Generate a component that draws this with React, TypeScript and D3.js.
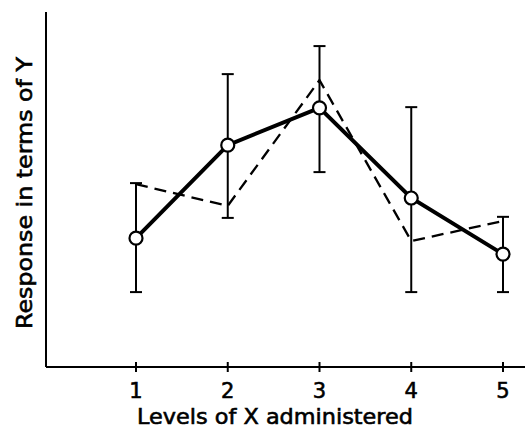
import React from 'react';
import * as d3 from 'd3';

// levels of X and the two response curves (arbitrary Y units)
const levels = [1, 2, 3, 4, 5];
const meanResp = [3.63, 6.25, 7.3, 4.76, 3.18];
const errLow = [2.11, 4.2, 5.49, 2.11, 2.11];
const errHigh = [5.18, 8.25, 9.04, 7.32, 4.23];
const otherResp = [5.15, 4.54, 8.08, 3.55, 4.11];
const tickLabels = ['1', '2', '3', '4', '5'];

const width = 525;
const height = 431;
const font = '"DejaVu Sans", sans-serif';

export default function App() {
  const x = d3.scaleLinear().domain([1, 5]).range([136, 503]);
  const y = d3.scaleLinear().domain([0, 10]).range([367, 12]);
  const axisY = y(0);
  const axisX = 46;

  const line = d3.line<number>()
    .x((d, i) => x(levels[i]))
    .y(d => y(d));

  // text is drawn a bit heavier, like the old typeset figure
  const txt = { fontFamily: font, fill: '#000', stroke: '#000', strokeWidth: 0.6 };

  return (
    <svg width={width} height={height}
      style={{ position: 'absolute', left: 0, top: 0, background: '#fff' }}>
      {/* axes */}
      <line x1={axisX} x2={axisX} y1={12} y2={axisY} stroke="#000" strokeWidth={2} />
      <line x1={axisX} x2={width} y1={axisY} y2={axisY} stroke="#000" strokeWidth={2} />
      {levels.map((l, i) => (
        <g key={l}>
          <line x1={x(l)} x2={x(l)} y1={axisY - 5} y2={axisY + 5} stroke="#000" strokeWidth={2} />
          <text x={x(l)} y={398} textAnchor="middle" fontSize={21} {...txt}>{tickLabels[i]}</text>
        </g>
      ))}
      <text x={275} y={424} textAnchor="middle" fontSize={21} textLength={276}
        lengthAdjust="spacingAndGlyphs" {...txt}>Levels of X administered</text>
      <text transform={`translate(32,193) rotate(-90)`} textAnchor="middle" fontSize={21}
        textLength={272} lengthAdjust="spacingAndGlyphs" {...txt}>Response in terms of Y</text>

      {/* error bars */}
      {levels.map((l, i) => (
        <g key={'e' + l} stroke="#000" strokeWidth={2}>
          <line x1={x(l)} x2={x(l)} y1={y(errLow[i])} y2={y(errHigh[i])} />
          <line x1={x(l) - 6} x2={x(l) + 6} y1={y(errLow[i])} y2={y(errLow[i])} />
          <line x1={x(l) - 6} x2={x(l) + 6} y1={y(errHigh[i])} y2={y(errHigh[i])} />
        </g>
      ))}

      {/* dashed comparison curve */}
      <path d={line(otherResp) || ''} fill="none" stroke="#000" strokeWidth={2.3} strokeDasharray="12,7" />
      {/* solid curve */}
      <path d={line(meanResp) || ''} fill="none" stroke="#000" strokeWidth={4} />
      {levels.map((l, i) => (
        <circle key={'c' + l} cx={x(l)} cy={y(meanResp[i])} r={6.5} fill="#fff" stroke="#000" strokeWidth={2.2} />
      ))}
    </svg>
  );
}
